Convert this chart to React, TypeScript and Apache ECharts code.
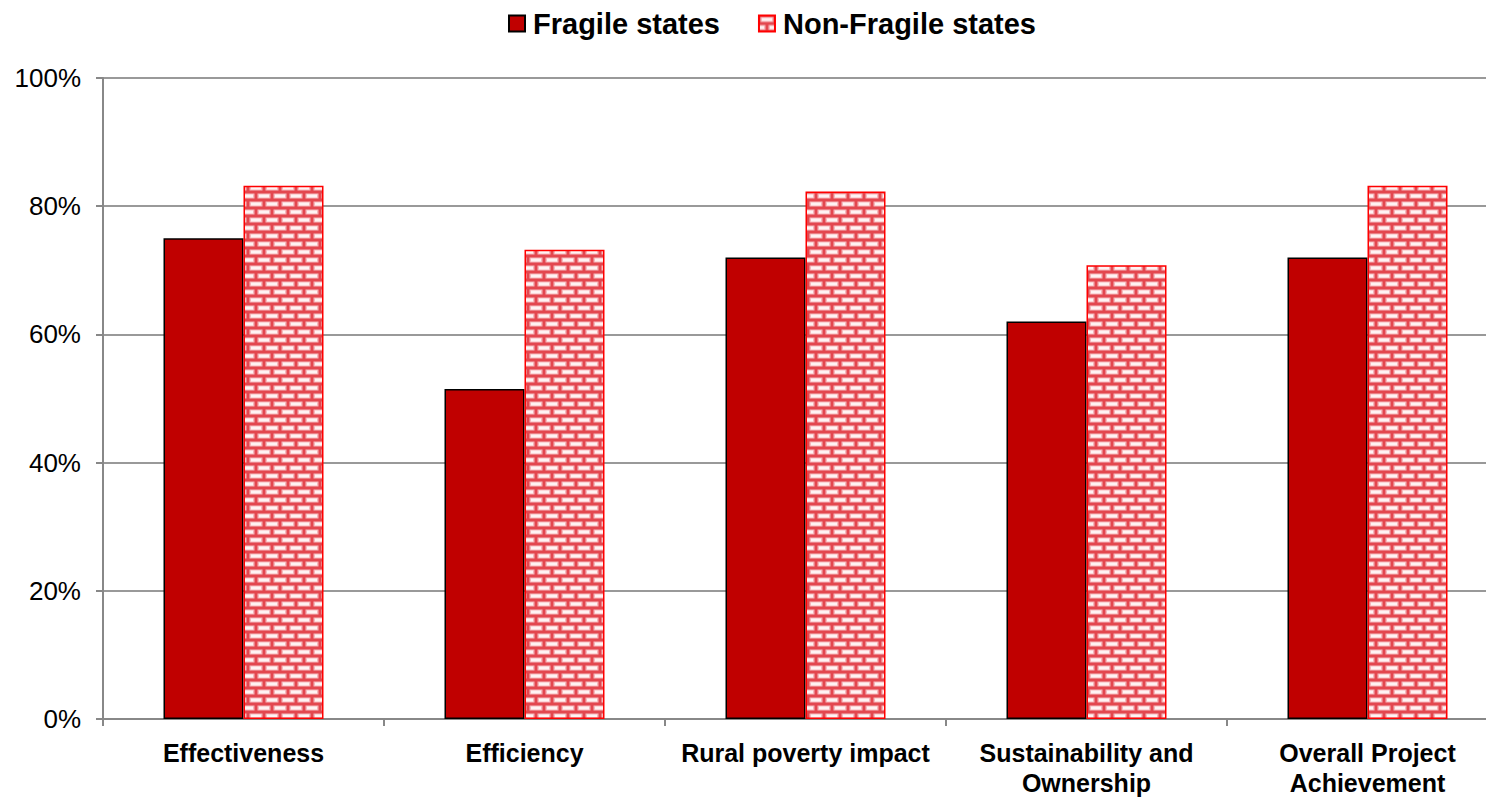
import React, { useEffect, useRef } from "react";
import * as echarts from "echarts";

const categories = [
  "Effectiveness",
  "Efficiency",
  "Rural poverty impact",
  "Sustainability and\nOwnership",
  "Overall Project\nAchievement",
];
const fragile = [75, 51.5, 72, 62, 72];
const nonFragile = [83.2, 73.2, 82.3, 70.8, 83.2];
const seriesNames = ["Fragile states", "Non-Fragile states"];

function makeBrick(): string {
  const c = document.createElement("canvas");
  const w = 32, h = 16;
  c.width = w;
  c.height = h;
  const ctx = c.getContext("2d")!;
  ctx.fillStyle = "#e3474f";
  ctx.fillRect(0, 0, w, h);
  const drawBrick = (x: number, y: number) => {
    ctx.fillStyle = "#f6b9bd";
    ctx.fillRect(x + 1.5, y + 1.5, 13, 5);
    ctx.fillStyle = "#fff3f3";
    ctx.fillRect(x + 3, y + 2.5, 10, 3);
  };
  for (let x = -16; x < w + 16; x += 16) {
    drawBrick(x, 0);
    drawBrick(x + 8, 8);
  }
  return c.toDataURL();
}

export default function App() {
  const ref = useRef<HTMLDivElement>(null);
  useEffect(() => {
    if (!ref.current) return;
    const chart = echarts.init(ref.current, null, { renderer: "svg" });
    const brick = { image: makeBrick(), repeat: "repeat" } as any;
    chart.setOption({
      animation: false,
      textStyle: { fontFamily: "Liberation Sans, Arial, sans-serif" },
      legend: {
        top: 4,
        left: 503,
        itemWidth: 16,
        itemHeight: 16,
        itemGap: 38,
        textStyle: { fontSize: 29, fontWeight: "bold", color: "#000", padding: [0, 0, 0, 3] },
        data: [
          { name: seriesNames[0], icon: "rect" },
          { name: seriesNames[1], icon: "rect" },
        ],
      },
      grid: { left: 103, width: 1405, top: 78, height: 643, containLabel: false },
      xAxis: {
        type: "category",
        data: categories,
        axisLine: { lineStyle: { color: "#888", width: 2 } },
        axisTick: { show: true, length: 7, lineStyle: { color: "#888", width: 2 } },
        axisLabel: {
          interval: 0,
          color: "#000",
          fontSize: 25,
          fontWeight: "bold",
          margin: 19,
          lineHeight: 30,
        },
      },
      yAxis: {
        type: "value",
        min: 0,
        max: 100,
        interval: 20,
        axisLine: { show: true, lineStyle: { color: "#888", width: 2 } },
        axisTick: { show: true, length: 7, lineStyle: { color: "#888", width: 2 } },
        splitLine: { lineStyle: { color: "#999", width: 2 } },
        axisLabel: {
          formatter: "{value}%",
          color: "#000",
          fontSize: 26,
          margin: 22,
        },
      },
      series: [
        {
          name: seriesNames[0],
          type: "bar",
          data: fragile,
          barWidth: 80,
          barGap: "0%",
          itemStyle: { color: "#c00000", borderColor: "#000", borderWidth: 1.5 },
        },
        {
          name: seriesNames[1],
          type: "bar",
          data: nonFragile,
          barWidth: 80,
          barGap: "0%",
          itemStyle: { color: brick, borderColor: "#ff0000", borderWidth: 1.5 },
        },
      ],
    });
    return () => chart.dispose();
  }, []);
  return (
    <div
      style={{ position: "fixed", left: 0, top: 0, width: 1486, height: 798, overflow: "hidden", background: "#fff" }}
    >
      <div ref={ref} style={{ width: 1540, height: 798 }} />
    </div>
  );
}
